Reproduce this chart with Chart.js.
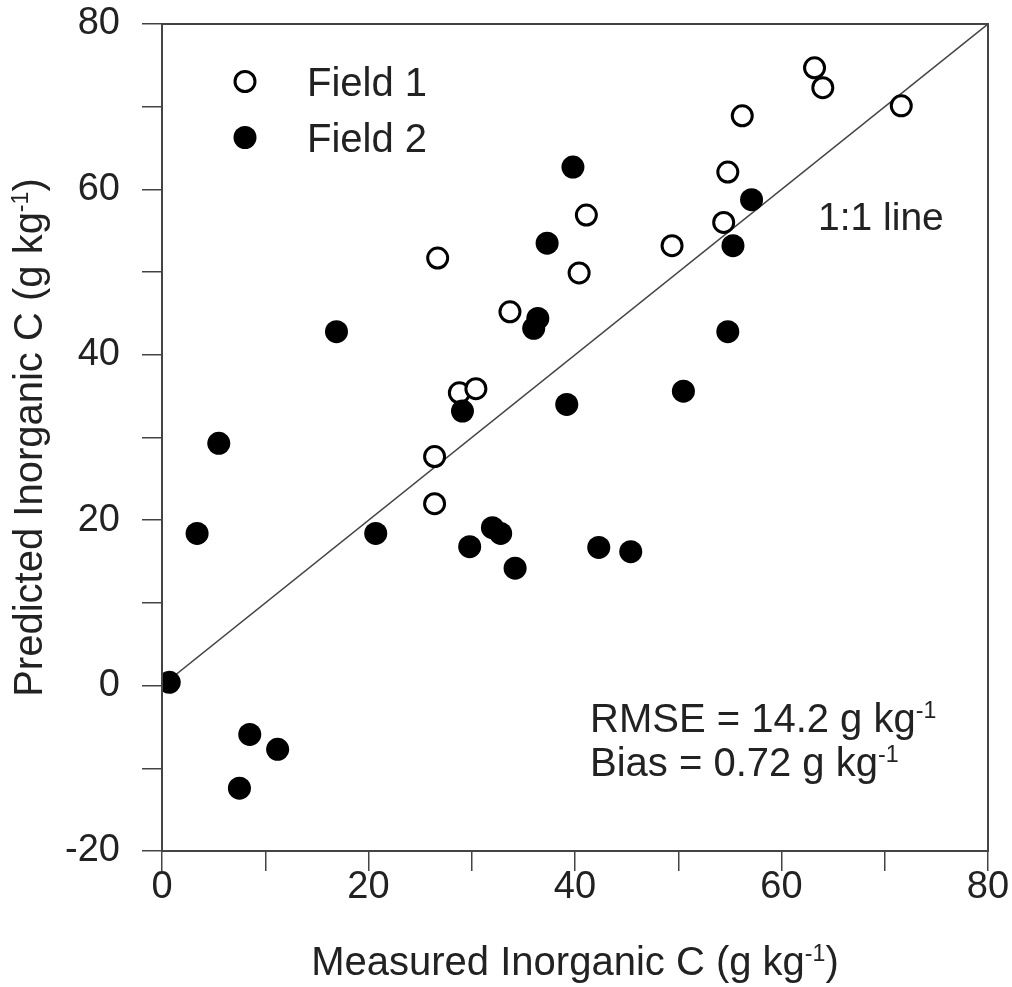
<!DOCTYPE html>
<html>
<head>
<meta charset="utf-8">
<script src="https://cdn.jsdelivr.net/npm/chart.js@4.4.1/dist/chart.umd.min.js"></script>
<style>
  html, body { margin: 0; padding: 0; background: #fff; }
  canvas { display: block; }
</style>
</head>
<body>
<canvas id="myChart" width="1012" height="987"></canvas>
<script>
// Field 1 (open circles)
const field1Measured  = [63.2, 64.0, 71.6, 56.2, 54.8, 41.1, 54.4, 49.4, 40.4, 26.7, 33.7, 28.8, 30.4, 26.4, 26.4];
const field1Predicted = [74.7, 72.3, 70.1, 68.9, 62.1, 56.9, 56.0, 53.2, 49.9, 51.7, 45.2, 35.4, 35.9, 27.7, 22.0];

// Field 2 (filled circles)
const field2Measured  = [39.8, 57.1, 37.3, 55.3, 16.9, 36.4, 36.0, 54.8, 50.5, 29.1, 39.2, 5.5, 3.4, 20.7, 29.8, 32.0, 32.8, 34.2, 42.3, 45.4, 0.7, 8.5, 11.2, 7.5];
const field2Predicted = [62.7, 58.75, 53.5, 53.2, 42.8, 44.4, 43.2, 42.8, 35.6, 33.2, 34.0, 29.3, 18.4, 18.4, 16.8, 19.1, 18.4, 14.2, 16.7, 16.2, 0.4, -5.9, -7.7, -12.4];

// 1:1 line end points
const lineX = [0, 80];
const lineY = [0, 80];

// tick labels
const xTickLabels = [0, 20, 40, 60, 80];
const yTickLabels = [-20, 0, 20, 40, 60, 80];

const FONT = "'Liberation Sans', Arial, sans-serif";
const TEXT = "#222";
const AXIS = "#444";

const toPoints = (xs, ys) => xs.map((x, i) => ({ x: x, y: ys[i] }));

// draws text with superscript pieces, e.g. kg^-1
function drawRich(ctx, parts, x, y, size, align) {
  let total = 0;
  const widths = parts.map((p) => {
    ctx.font = `${p.sup ? size * 0.58 : size}px ${FONT}`;
    const w = ctx.measureText(p.t).width;
    total += w;
    return w;
  });
  let cx = align === "center" ? x - total / 2 : align === "right" ? x - total : x;
  parts.forEach((p, i) => {
    ctx.font = `${p.sup ? size * 0.58 : size}px ${FONT}`;
    ctx.fillText(p.t, cx, p.sup ? y - size * 0.36 : y);
    cx += widths[i];
  });
}

const decorations = {
  id: "decorations",
  afterDraw(chart) {
    const ctx = chart.ctx;
    const a = chart.chartArea;
    ctx.save();

    // frame
    ctx.strokeStyle = AXIS;
    ctx.lineWidth = 2;
    ctx.strokeRect(a.left, a.top, a.right - a.left, a.bottom - a.top);

    ctx.fillStyle = TEXT;
    ctx.textAlign = "left";
    ctx.textBaseline = "alphabetic";

    // axis titles
    drawRich(ctx, [{ t: "Measured Inorganic C (g kg" }, { t: "-1", sup: true }, { t: ")" }],
      (a.left + a.right) / 2, 975, 40, "center");

    ctx.save();
    ctx.translate(42, (a.top + a.bottom) / 2);
    ctx.rotate(-Math.PI / 2);
    drawRich(ctx, [{ t: "Predicted Inorganic C (g kg" }, { t: "-1", sup: true }, { t: ")" }],
      0, 0, 40, "center");
    ctx.restore();

    // 1:1 label
    drawRich(ctx, [{ t: "1:1 line" }], a.left + 656, a.top + 206, 39, "left");

    // stats
    drawRich(ctx, [{ t: "RMSE = 14.2 g kg" }, { t: "-1", sup: true }], a.left + 428, a.top + 708, 40, "left");
    drawRich(ctx, [{ t: "Bias = 0.72 g kg" }, { t: "-1", sup: true }], a.left + 428, a.top + 752, 40, "left");

    // legend
    const mx = a.left + 83;
    ctx.beginPath();
    ctx.arc(mx, a.top + 57.5, 10, 0, Math.PI * 2);
    ctx.fillStyle = "#fff";
    ctx.fill();
    ctx.lineWidth = 3;
    ctx.strokeStyle = "#000";
    ctx.stroke();
    ctx.beginPath();
    ctx.arc(mx, a.top + 113.5, 11.5, 0, Math.PI * 2);
    ctx.fillStyle = "#000";
    ctx.fill();

    ctx.fillStyle = TEXT;
    drawRich(ctx, [{ t: "Field 1" }], a.left + 145, a.top + 72, 40, "left");
    drawRich(ctx, [{ t: "Field 2" }], a.left + 145, a.top + 128, 40, "left");

    ctx.restore();
  },
};

const ctx = document.getElementById("myChart").getContext("2d");

const myChart = new Chart(ctx, {
  type: "scatter",
  data: {
    datasets: [
      {
        label: "Field 2",
        data: toPoints(field2Measured, field2Predicted),
        pointRadius: 11.5,
        pointBackgroundColor: "#000",
        pointBorderWidth: 0,
      },
      {
        label: "Field 1",
        data: toPoints(field1Measured, field1Predicted),
        pointRadius: 10,
        pointBackgroundColor: "#fff",
        pointBorderColor: "#000",
        pointBorderWidth: 3,
      },
      {
        label: "1:1 line",
        data: toPoints(lineX, lineY),
        showLine: true,
        pointRadius: 0,
        borderColor: "#444",
        borderWidth: 1.5,
      },
    ],
  },
  options: {
    responsive: false,
    animation: false,
    events: [],
    layout: { padding: { top: 24, right: 24, left: 0, bottom: 0 } },
    plugins: {
      legend: { display: false },
      tooltip: { enabled: false },
    },
    scales: {
      x: {
        type: "linear",
        min: 0,
        max: 80,
        afterFit: (scale) => {
          scale.height = 136;
          scale.paddingLeft = 0;
          scale.paddingRight = 0;
        },
        ticks: {
          stepSize: 10,
          autoSkip: false,
          maxRotation: 0,
          padding: -6,
          color: TEXT,
          font: { family: FONT, size: 38 },
          callback: (v) => (xTickLabels.includes(v) ? String(v) : ""),
        },
        grid: {
          drawOnChartArea: false,
          drawTicks: true,
          tickLength: 20,
          color: AXIS,
          lineWidth: 1.5,
        },
        border: { display: true, color: AXIS, width: 2 },
      },
      y: {
        type: "linear",
        min: -20,
        max: 80,
        afterFit: (scale) => {
          scale.width = 162;
          scale.paddingTop = 0;
          scale.paddingBottom = 0;
        },
        ticks: {
          stepSize: 10,
          autoSkip: false,
          padding: 22,
          color: TEXT,
          font: { family: FONT, size: 38 },
          callback: (v) => (yTickLabels.includes(v) ? String(v) : ""),
        },
        grid: {
          drawOnChartArea: false,
          drawTicks: true,
          tickLength: 20,
          color: AXIS,
          lineWidth: 1.5,
        },
        border: { display: true, color: AXIS, width: 2 },
      },
    },
  },
  plugins: [decorations],
});
</script>
</body>
</html>
